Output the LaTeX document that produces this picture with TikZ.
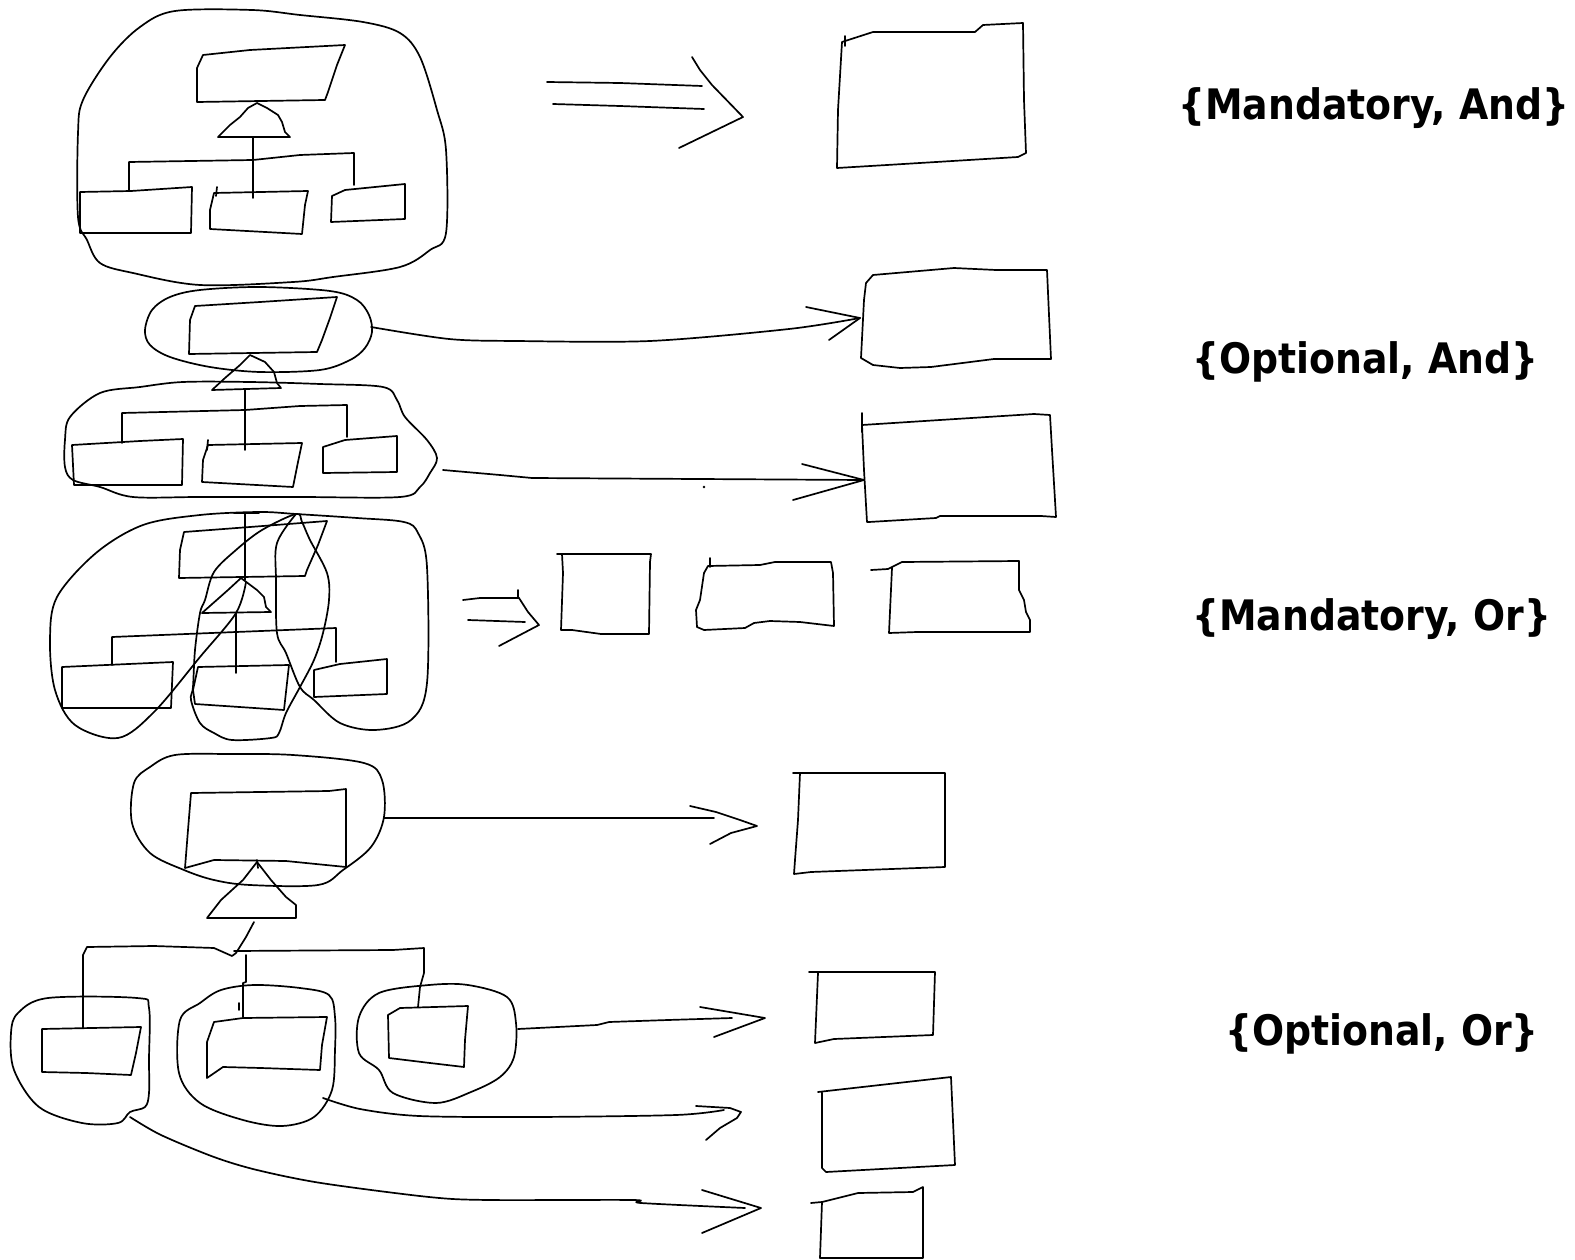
\documentclass[tikz,border=0pt]{standalone}
\usepackage{fontspec}
\newfontfamily\lblfont{DejaVu Sans Condensed Bold}
\begin{document}
\begin{tikzpicture}[x=1pt,y=-1pt,
  sk/.style={line width=1.7pt, line join=round, line cap=round, black},
  blob/.style={sk, smooth cycle, tension=0.55},
  lbl/.style={anchor=base west, inner sep=0pt, font=\lblfont\fontsize{42}{48}\selectfont}]
\useasboundingbox[fill=white] (0,0) rectangle (1575,1260);

% ================= Section 1 : {Mandatory, And}
\draw[sk] plot[blob] coordinates {(175,11) (252,10) (300,15) (363,22) (400,33) (420,57) (437,110) (446,150) (446,233) (430,250) (400,267) (333,277) (293,282) (200,285) (133,273) (100,263) (87,240) (78,217) (78,133) (83,100) (110,57) (140,27)};
\draw[sk] (203,55) -- (250,50) -- (345,45) -- (337,65) -- (328,92) -- (325,100) -- (197,102) -- (197,68) -- cycle;
\draw[sk] (257,103) -- (248,108) -- (240,117) -- (230,125) -- (218,137) -- (290,137) -- (285,132) -- (282,122) -- (278,115) -- (267,108) -- cycle;
\draw[sk] (253,138) -- (253,198);
\draw[sk] (129,190) -- (129,162) -- (253,160) -- (300,155) -- (354,153) -- (354,185);
\draw[sk] (80,192) -- (131,191) -- (192,187) -- (191,233) -- (80,233) -- cycle;
\draw[sk] (217,187) -- (216,196);
\draw[sk] (214,193) -- (308,191) -- (305,205) -- (302,234) -- (210,229) -- (210,210) -- cycle;
\draw[sk] (332,196) -- (345,190) -- (405,184) -- (405,219) -- (331,222) -- cycle;
% double arrow
\coordinate (a1u) at (547,82); \coordinate (a1ue) at (702,86);
\coordinate (a1l) at (553,104); \coordinate (a1le) at (704,109);
\coordinate (a1tip) at (743,117);
\draw[sk] (a1u) -- (620,83) -- (a1ue);
\draw[sk] (a1l) -- (620,106) -- (a1le);
\draw[sk] (692,57) -- (700,70) -- (712,85) -- (a1tip) -- (679,148);
% target
\draw[sk] (842,42) -- (873,32) -- (975,32) -- (983,25) -- (1023,23) -- (1024,100) -- (1026,153) -- (1018,157) -- (887,165) -- (837,168) -- (838,110) -- cycle;
\draw[sk] (845,36) -- (845,46);
\node[lbl] (l1) at (1178,120) {\{Mandatory, And\}};

% ================= Section 2 : {Optional, And}
\draw[sk] plot[blob] coordinates {(145,330) (152,310) (170,297) (200,290) (260,287) (330,291) (357,300) (369,315) (372,332) (365,348) (350,360) (320,370) (260,372) (210,367) (170,357) (150,345)};
\draw[sk] (195,306) -- (260,302) -- (337,297) -- (330,318) -- (322,340) -- (317,352) -- (189,354) -- (190,320) -- cycle;
\draw[sk] (250,355) -- (240,365) -- (225,378) -- (212,390) -- (281,388) -- (277,383) -- (274,372) -- (265,362) -- cycle;
\draw[sk] (245,390) -- (245,450);
\draw[sk] (122,443) -- (122,413) -- (245,410) -- (300,406) -- (347,405) -- (347,437);
\draw[sk] (72,445) -- (140,441) -- (183,439) -- (182,485) -- (74,485) -- cycle;
\draw[sk] (208,440) -- (207,450);
\draw[sk] (208,445) -- (302,443) -- (298,462) -- (293,487) -- (202,482) -- (203,460) -- cycle;
\draw[sk] (323,447) -- (345,440) -- (397,436) -- (397,472) -- (323,473) -- cycle;
\draw[sk] plot[blob] coordinates {(65,440) (70,417) (100,393) (140,387) (183,382) (250,382) (320,384) (383,387) (397,400) (405,417) (427,440) (437,458) (430,473) (420,487) (400,497) (300,497) (200,497) (133,497) (100,487) (73,480) (65,467)};
% arrows
\coordinate (a2s) at (371,327); \coordinate (a2e) at (860,318);
\draw[sk] plot[smooth, tension=0.5] coordinates {(a2s) (449,339) (516,341) (650,341) (789,329) (a2e)};
\draw[sk] (806,307) -- (a2e) -- (829,340);
\coordinate (b2s) at (443,470); \coordinate (b2e) at (864,480);
\draw[sk] (b2s) -- (500,475) -- (532,478) -- (b2e);
\draw[sk] (802,464) -- (b2e) -- (793,500);
\fill (704,487) circle (1.3);
% targets
\draw[sk] (873,275) -- (954,268) -- (996,270) -- (1047,270) -- (1049,315) -- (1051,359) -- (994,359) -- (931,367) -- (900,368) -- (873,365) -- (861,358) -- (864,300) -- (866,283) -- cycle;
\draw[sk] (862,413) -- (862,432);
\draw[sk] (862,425) -- (940,420) -- (1034,414) -- (1050,415) -- (1052,450) -- (1056,517) -- (1041,516) -- (940,516) -- (936,518) -- (869,522) -- (867,522) -- (864,470) -- cycle;
\node[lbl] (l2) at (1192,373) {\{Optional, And\}};

% ================= Section 3 : {Mandatory, Or}
\draw[sk] (184,532) -- (250,527) -- (327,521) -- (318,545) -- (307,570) -- (305,576) -- (179,578) -- (180,550) -- cycle;
\draw[sk] (234,513) -- (259,513);
\draw[sk] (245,513) -- (245,580);
\draw[sk] (241,578) -- (228,590) -- (202,613) -- (271,612) -- (266,607) -- (264,597) -- (257,590) -- cycle;
\draw[sk] (236,613) -- (236,673);
\draw[sk] (112,665) -- (112,637) -- (236,632) -- (336,628) -- (336,662);
\draw[sk] (62,667) -- (173,662) -- (171,708) -- (62,708) -- cycle;
\draw[sk] (198,667) -- (289,665) -- (284,710) -- (195,704) -- (193,690) -- cycle;
\draw[sk] (314,670) -- (340,664) -- (387,659) -- (387,694) -- (314,697) -- cycle;
% loops A + C
\draw[sk] plot[smooth, tension=0.55] coordinates {(246,582) (236,613) (200,657) (154,712) (118,738) (75,725) (55,690) (50,640) (57,597) (96,553) (143,525) (200,515) (259,512) (296,514) (357,518) (404,522) (418,533) (427,567) (427,683) (411,720) (375,730) (340,723) (314,700) (300,687) (286,653) (277,633) (276,580) (277,543) (296,514)};
% loop B
\draw[sk] plot[blob] coordinates {(296,514) (262,530) (236,550) (214,572) (205,600) (200,613) (195,650) (193,687) (191,700) (200,723) (214,733) (232,740) (271,738) (279,733) (286,713) (300,687) (314,660) (323,633) (329,600) (327,573) (310,540) (302,522)};
% double arrow
\coordinate (a3u) at (463,600); \coordinate (a3ue) at (519,598);
\coordinate (a3l) at (468,620); \coordinate (a3le) at (525,622);
\coordinate (a3tip) at (539,625);
\draw[sk] (a3u) -- (480,598) -- (a3ue);
\draw[sk] (518,590) -- (518,598);
\draw[sk] (a3l) -- (a3le);
\draw[sk] (a3ue) -- (528,612) -- (a3tip) -- (499,646);
% targets
\draw[sk] (557,554) -- (651,554) -- (650,562) -- (649,634) -- (601,634) -- (572,630) -- (561,630) -- (563,573) -- (562,554);
\draw[sk] (710,558) -- (710,567);
\draw[sk] (708,566) -- (760,565) -- (775,562) -- (831,562) -- (833,573) -- (834,626) -- (800,622) -- (770,621) -- (754,623) -- (745,628) -- (704,630) -- (697,627) -- (696,610) -- (700,600) -- (704,573) -- cycle;
\draw[sk] (871,570) -- (888,569) -- (894,566) -- (902,562) -- (1019,561) -- (1019,590) -- (1024,600) -- (1026,612) -- (1030,620) -- (1030,632) -- (917,632) -- (889,633) -- (892,568);
\node[lbl] (l3) at (1192,630) {\{Mandatory, Or\}};

% ================= Section 4 : {Optional, Or}
\draw[sk] plot[blob] coordinates {(150,767) (175,755) (230,754) (293,755) (364,763) (382,780) (384,817) (371,847) (343,870) (318,885) (250,885) (214,880) (184,870) (150,853) (132,823) (134,783)};
\draw[sk] (191,793) -- (329,791) -- (346,789) -- (346,867) -- (286,861) -- (214,860) -- (185,868) -- (188,830) -- cycle;
\draw[sk] (257,860) -- (258,868);
\draw[sk] (257,862) -- (243,880) -- (221,900) -- (207,918) -- (296,918) -- (296,905) -- (286,897) -- (271,880) -- cycle;
\draw[sk] (254,922) -- (246,937) -- (236,953) -- (232,956) -- (214,948) -- (154,946) -- (87,947) -- (83,955) -- (83,1028);
\draw[sk] (234,951) -- (393,950) -- (424,948) -- (424,973) -- (420,987) -- (418,1007);
\draw[sk] (246,955) -- (246,982) -- (243,983) -- (243,1017);
\draw[sk] (239,1003) -- (239,1010);
\draw[sk] (42,1029) -- (141,1027) -- (136,1053) -- (131,1075) -- (86,1073) -- (42,1072) -- cycle;
\draw[sk] (214,1022) -- (243,1018) -- (327,1017) -- (322,1045) -- (320,1070) -- (261,1068) -- (223,1067) -- (207,1078) -- (207,1042) -- cycle;
\draw[sk] (388,1015) -- (400,1008) -- (468,1006) -- (465,1040) -- (464,1067) -- (430,1063) -- (389,1058) -- cycle;
\draw[sk] plot[blob] coordinates {(48,998) (137,998) (149,1008) (149,1060) (149,1093) (145,1107) (130,1112) (118,1123) (82,1123) (39,1107) (14,1070) (11,1033) (18,1013)};
\draw[sk] plot[blob] coordinates {(254,985) (300,988) (329,995) (335,1017) (335,1050) (332,1090) (314,1117) (282,1126) (243,1120) (200,1103) (179,1073) (180,1020) (200,1003) (221,990)};
\draw[sk] plot[blob] coordinates {(379,993) (429,985) (468,985) (507,997) (516,1023) (514,1057) (500,1077) (471,1092) (436,1103) (393,1093) (379,1070) (359,1053) (359,1017)};
% arrows
\coordinate (a4s) at (384,818); \coordinate (a4e) at (757,826);
\draw[sk] (a4s) -- (401,818) -- (714,818);
\draw[sk] (690,806) -- (716,812) -- (740,820) -- (a4e) -- (731,833) -- (710,844);
\coordinate (b4s) at (518,1029); \coordinate (b4e) at (765,1018);
\draw[sk] (b4s) -- (597,1025) -- (609,1022) -- (668,1020) -- (732,1018);
\draw[sk] (700,1007) -- (b4e) -- (714,1037);
\coordinate (c4s) at (323,1098); \coordinate (c4e) at (741,1112);
\draw[sk] plot[smooth, tension=0.5] coordinates {(c4s) (360,1109) (419,1116) (534,1117) (676,1115) (724,1110)};
\draw[sk] (696,1106) -- (730,1108) -- (c4e) -- (737,1118) -- (720,1128) -- (706,1140);
\coordinate (d4s) at (130,1117); \coordinate (d4e) at (761,1208);
\draw[sk] plot[smooth, tension=0.5] coordinates {(d4s) (161,1135) (214,1157) (257,1170) (321,1183) (429,1197) (489,1200) (633,1200) (641,1203) (745,1208)};
\draw[sk] (702,1190) -- (d4e) -- (702,1233);
% targets
\draw[sk] (793,773) -- (945,773) -- (945,867) -- (811,872) -- (794,874) -- (795,860) -- (798,820) -- (800,773);
\draw[sk] (809,972) -- (935,972) -- (933,1035) -- (834,1039) -- (815,1043) -- (818,973);
\draw[sk] (818,1092) -- (951,1077) -- (955,1165) -- (826,1172) -- (822,1168) -- (822,1093);
\draw[sk] (811,1203) -- (822,1202) -- (858,1193) -- (913,1192) -- (923,1187) -- (923,1258) -- (820,1258) -- (822,1202);
\node[lbl] (l4) at (1225,1045) {\{Optional, Or\}};
\end{tikzpicture}
\end{document}
